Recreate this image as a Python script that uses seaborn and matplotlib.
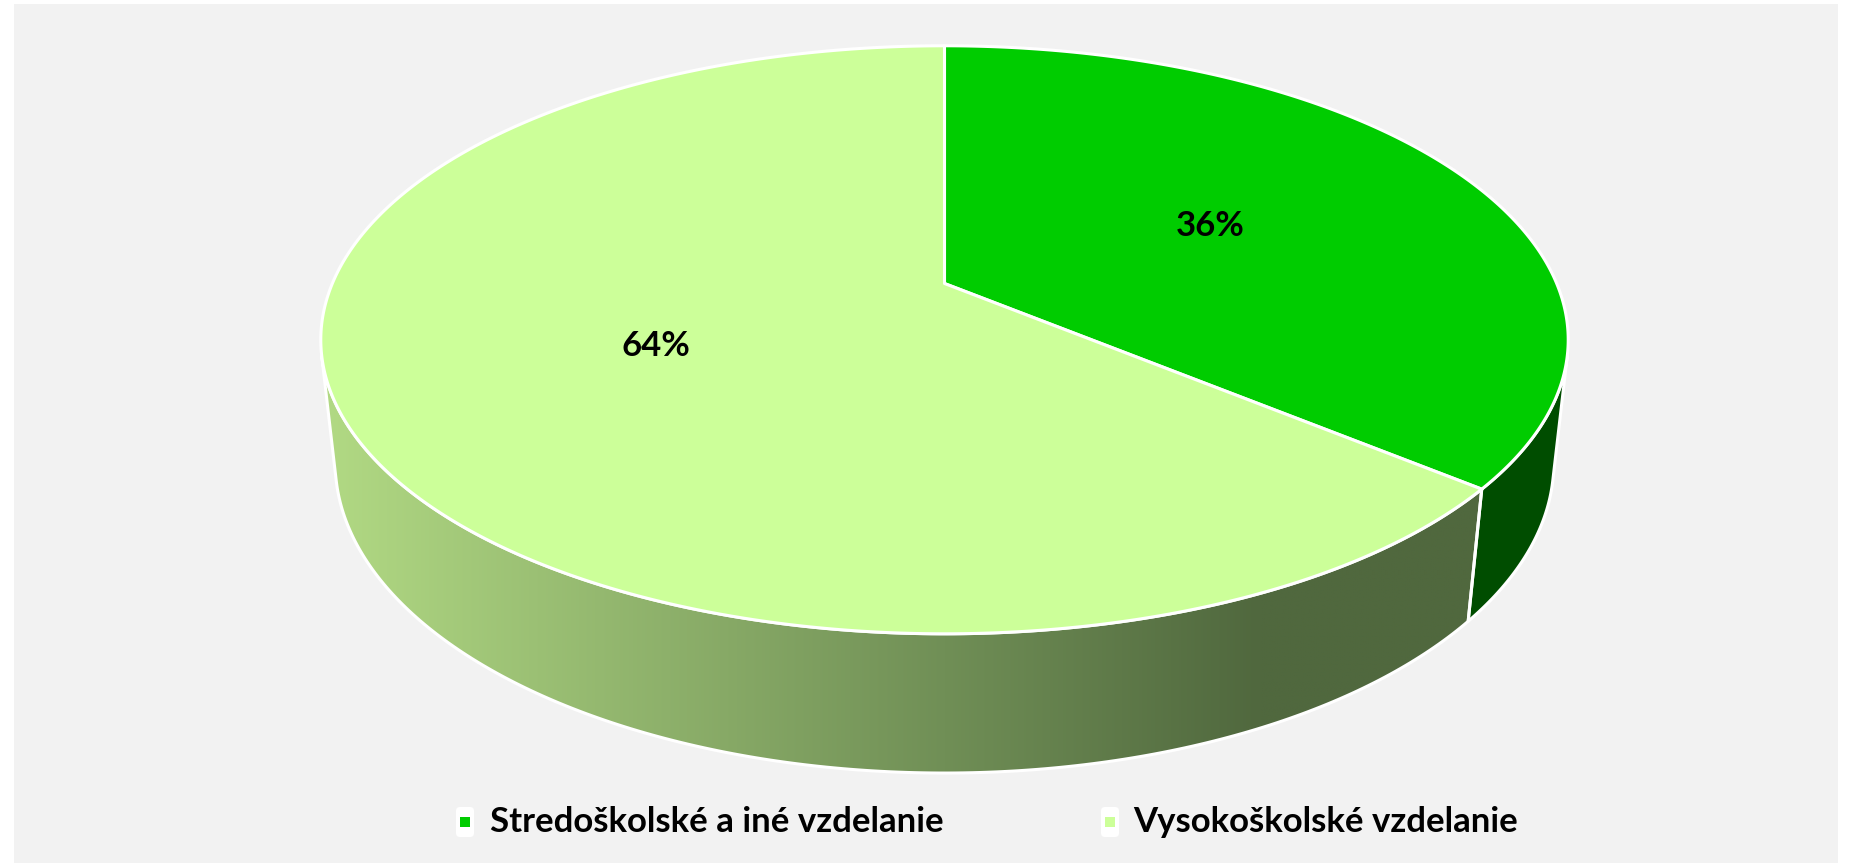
import numpy as np
import matplotlib
matplotlib.use("Agg")
import matplotlib.pyplot as plt
from matplotlib.patches import Polygon, Rectangle, FancyBboxPatch
import seaborn as sns

# Data
categories = ["Stredoškolské a iné vzdelanie", "Vysokoškolské vzdelanie"]
shares = [36, 64]
pct_labels = ["36%", "64%"]
top_colors = ["#00CC00", "#CCFF99"]
wall_colors = ["#004D00", "#7A9A5E"]

sns.set_theme(style="white")
plt.rcParams["font.family"] = ["Lato", "DejaVu Sans"]

W, H = 1852, 867
fig = plt.figure(figsize=(W / 100, H / 100), dpi=100)
fig.patch.set_facecolor("white")
ax = fig.add_axes([0, 0, 1, 1])
ax.set_xlim(0, W)
ax.set_ylim(H, 0)
ax.axis("off")

# grey chart area
ax.add_patch(Rectangle((14, 4), 1824, 859, facecolor="#F2F2F2",
                       edgecolor="none", zorder=0))

# perspective view of a flat cylinder
phi = np.deg2rad(27.56)
s, c = np.sin(phi), np.cos(phi)
dist = 4.631
focal = 2835.0
cx, cy = 944.5, 283.5
thick = 0.228


def project(r, t, z):
    x = r * np.cos(t)
    y = r * np.sin(t)
    d = dist + y * c - z * s
    up = y * s + z * c
    return cx + focal * x / d, cy - focal * up / d


# wall is front-facing where sin(t) < -1/(dist*cos(phi))
t_vis = np.arcsin(-1.0 / (dist * c))
vis_lo, vis_hi = -np.pi - t_vis, t_vis

fractions = np.array(shares) / np.sum(shares)
bounds = np.deg2rad(90.0) - np.concatenate([[0], np.cumsum(fractions)]) * 2 * np.pi

edge_kw = dict(edgecolor="white", linewidth=2.2, joinstyle="round")

# walls
for i in range(len(shares)):
    a_start, a_end = bounds[i], bounds[i + 1]  # a_start > a_end
    lo, hi = max(a_end, vis_lo), min(a_start, vis_hi)
    if hi <= lo:
        continue
    tt = np.linspace(hi, lo, 200)
    tx, ty = project(1.0, tt, 0.0)
    bx, by = project(1.0, tt[::-1], -thick)
    pts = np.column_stack([np.concatenate([tx, bx]), np.concatenate([ty, by])])
    if i == 1:
        # horizontal light-to-dark shading across the wall
        xs = np.linspace(300, 1600, 700)
        stops_x = [320, 945, 1260, 1600]
        stops_c = np.array([[178, 218, 132], [112, 143, 86],
                            [80, 104, 62], [80, 104, 62]]) / 255.0
        rgb = np.stack([np.interp(xs, stops_x, stops_c[:, k]) for k in range(3)], axis=-1)
        img = np.repeat(rgb[None, :, :], 2, axis=0)
        clip = Polygon(pts, closed=True, facecolor="none", edgecolor="none")
        ax.add_patch(clip)
        im = ax.imshow(img, extent=[300, 1600, 800, 300], aspect="auto",
                       interpolation="bilinear", zorder=1)
        im.set_clip_path(clip)
        ax.add_patch(Polygon(pts, closed=True, facecolor="none", zorder=2, **edge_kw))
    else:
        ax.add_patch(Polygon(pts, closed=True, facecolor=wall_colors[i],
                             zorder=2, **edge_kw))

# top faces
for i in range(len(shares)):
    tt = np.linspace(bounds[i], bounds[i + 1], 400)
    tx, ty = project(1.0, tt, 0.0)
    pts = np.column_stack([np.concatenate([[cx], tx]), np.concatenate([[cy], ty])])
    ax.add_patch(Polygon(pts, closed=True, facecolor=top_colors[i], zorder=3, **edge_kw))

# percentage labels
for i in range(len(shares)):
    mid = 0.5 * (bounds[i] + bounds[i + 1])
    lx, ly = project(0.5, mid, 0.0)
    ax.text(lx, ly, pct_labels[i], ha="center", va="center", fontsize=25,
            fontweight="bold", color="black", zorder=5)

# legend
legend_y = 822
for (bx0, tx0), name, col in zip([(456, 490), (1101, 1133)], categories, top_colors):
    ax.add_patch(FancyBboxPatch((bx0, legend_y - 15), 18, 30,
                                boxstyle="round,pad=0,rounding_size=4",
                                facecolor="white", edgecolor="none", zorder=4))
    ax.add_patch(Rectangle((bx0 + 4, legend_y - 5), 10, 10, facecolor=col,
                           edgecolor="none", zorder=5))
    ax.text(tx0, legend_y, name, ha="left", va="center", fontsize=25,
            fontweight="bold", color="black", zorder=5)

fig.savefig("out.png", dpi=100, facecolor="white")
